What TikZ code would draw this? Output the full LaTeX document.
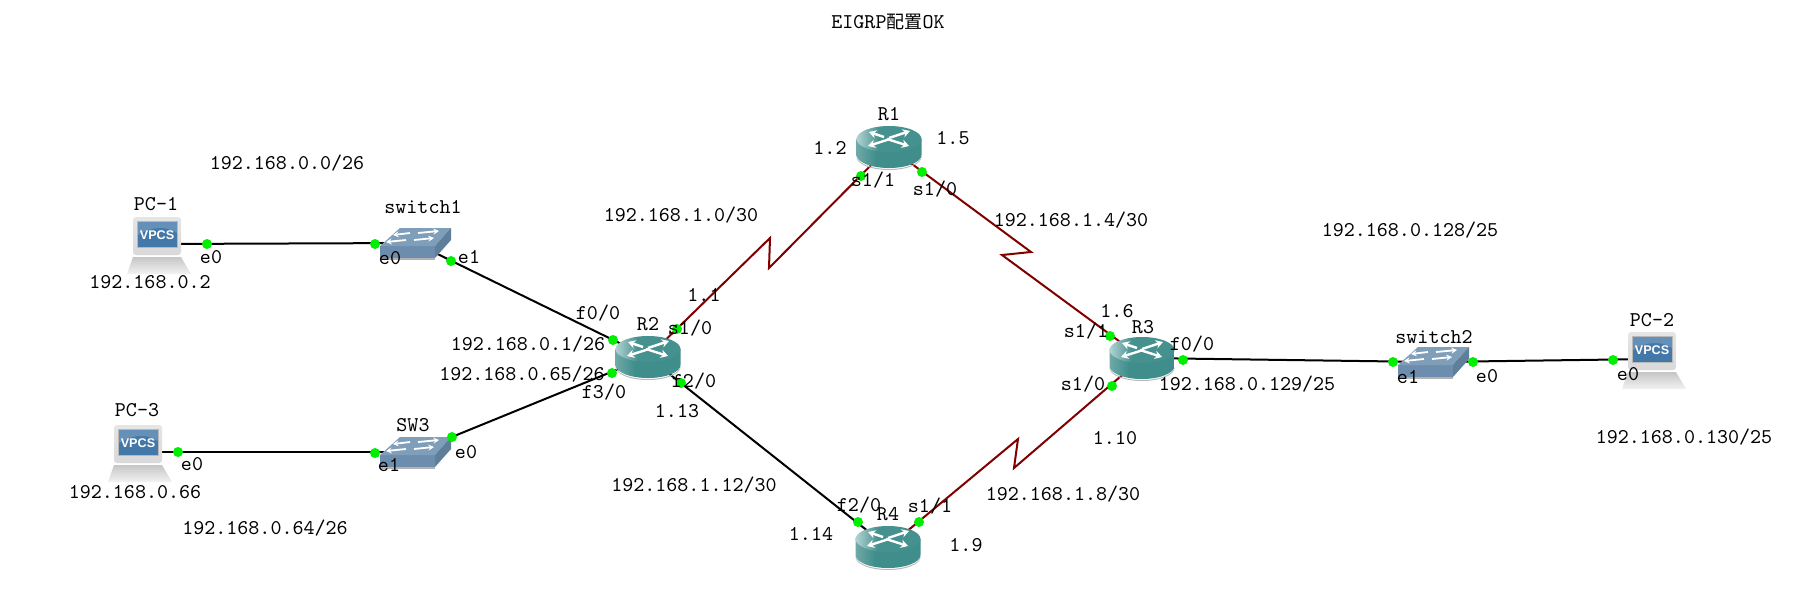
\documentclass[tikz,border=0pt]{standalone}
\usepackage{fontspec}
\usetikzlibrary{arrows.meta}
\newfontfamily\cjkfont{Noto Sans CJK SC}
\newfontfamily\iconfont{Liberation Sans}
\definecolor{routerteal}{HTML}{3F8E8C}
\definecolor{routertop}{HTML}{45918F}
\definecolor{routerlight}{HTML}{B4D4D4}
\definecolor{routermid}{HTML}{6FA9A8}
\definecolor{swfront}{HTML}{6C8DAE}
\definecolor{swtop}{HTML}{7F9EB9}
\definecolor{swside}{HTML}{5E7E9A}
\definecolor{serialred}{HTML}{800000}
\definecolor{dotgreen}{HTML}{00EE00}
\definecolor{screenblue}{HTML}{4478A8}
\pgfdeclarehorizontalshading{routertopshade}{100bp}{color(0bp)=(routerlight); color(25bp)=(routerlight); color(42bp)=(routertop); color(100bp)=(routertop)}
\pgfdeclarehorizontalshading{routerbodyshade}{100bp}{color(0bp)=(routermid); color(25bp)=(routermid); color(40bp)=(routerteal); color(100bp)=(routerteal)}
\tikzset{
  x=0.5pt, y=-0.5pt,
  devbox/.style={inner sep=0pt, minimum width=4pt, minimum height=4pt},
  eth/.style={black, line width=1pt},
  serial/.style={serialred, line width=1pt},
  port/.style={circle, fill=dotgreen, draw=none, inner sep=0pt, minimum size=5pt},
  lbl/.style={inner sep=0pt, font=\ttfamily\fontsize{10.5}{11}\selectfont, text=black},
  whitearrow/.style={white, line width=1.2pt, -{Stealth[length=3.6pt,width=4.2pt]}},
  router/.pic={
    \fill[gray!55] (-32.5,10) -- (-32.5,9) arc[x radius=32.5, y radius=-13, start angle=180, end angle=360] -- (32.5,10) arc[x radius=32.5, y radius=-13, start angle=360, end angle=180] -- cycle;
    \shade[shading=routerbodyshade]
      (-32.5,-8) -- (-32.5,8) arc[x radius=32.5, y radius=-13, start angle=180, end angle=360] -- (32.5,-8) -- cycle;
    \shade[shading=routertopshade] (0,-8) ellipse[x radius=32.5, y radius=13];
    \draw[whitearrow] (-5,-10) -- (-20,-15);
    \draw[whitearrow] (0,-9) -- (21,-16);
    \draw[whitearrow] (1,-8) -- (-21,-1);
    \draw[whitearrow] (-2,-8) -- (20,-1);
  },
  switchicon/.pic={
    \fill[gray!60] (-35,15) rectangle (20,17);
    \fill[swfront] (-35,3) rectangle (20,15);
    \fill[swtop] (-35,3) -- (-15,-15) -- (36,-15) -- (20,3) -- cycle;
    \fill[swside] (20,3) -- (36,-15) -- (36,-3) -- (20,15) -- cycle;
    \draw[white, line width=0.9pt, -{Stealth[length=2.8pt,width=3pt]}] (-5,-10) -- (-22,-8);
    \draw[white, line width=0.9pt, -{Stealth[length=2.8pt,width=3pt]}] (3,-10) -- (24,-12);
    \draw[white, line width=0.9pt, -{Stealth[length=2.8pt,width=3pt]}] (-9,-3) -- (-29,-1);
    \draw[white, line width=0.9pt, -{Stealth[length=2.8pt,width=3pt]}] (-1,-3) -- (19,-5);
  },
  pcicon/.pic={
    \shade[top color=gray!45, bottom color=gray!10] (-24,13) -- (24,13) -- (34,30) -- (-30,30) -- cycle;
    \shade[top color=gray!20, bottom color=gray!30, rounded corners=1.5pt] (-24,-27) rectangle (24,11);
    \fill[gray!55] (-20,-23) rectangle (21,4);
    \fill[screenblue] (-19,-22) rectangle (20,3);
    \fill[white, opacity=0.18] (-19,-22) -- (20,-22) -- (20,-11) .. controls (8,-19) and (-6,-17) .. (-19,-9) -- cycle;
    \node[inner sep=0pt, text=white, font=\iconfont\bfseries\fontsize{6.3}{7}\selectfont] (-vpcs) at (0,-9) {VPCS};
  },
}
\newcommand{\lbl}[4]{\node[lbl] (#1) at (#2,#3) {#4};}
\newcommand{\prt}[3]{\node[port] (#1) at (#2,#3) {};}
\begin{document}
\begin{tikzpicture}
\useasboundingbox (0,0) rectangle (1816,607);
\fill[white] (0,0) rectangle (1816,607);
% device anchors
\node[devbox] (PC1) at (157,244) {};
\node[devbox] (PC2) at (1652,359) {};
\node[devbox] (PC3) at (138,452) {};
\node[devbox] (SWA) at (415,243) {};
\node[devbox] (SWB) at (1433,362) {};
\node[devbox] (SWC) at (415,452) {};
\node[devbox] (R1) at (889,147) {};
\node[devbox] (R2) at (648,357) {};
\node[devbox] (R3) at (1142,358) {};
\node[devbox] (R4) at (888,547) {};
\coordinate (zA) at (770,238);
\coordinate (zB) at (769,268);
\coordinate (zC) at (1031,252);
\coordinate (zD) at (1002,255);
\coordinate (zE) at (1018,439);
\coordinate (zF) at (1014,468);
% connectors
\draw[eth] (PC1.center) -- (SWA.center);
\draw[eth] (SWA.center) -- (R2.center);
\draw[eth] (PC3.center) -- (SWC.center);
\draw[eth] (SWC.center) -- (R2.center);
\draw[eth] (R2.center) -- (R4.center);
\draw[eth] (R3.center) -- (SWB.center);
\draw[eth] (SWB.center) -- (PC2.center);
\draw[serial] (R2.center) -- (zA) -- (zB) -- (R1.center);
\draw[serial] (R1.center) -- (zC) -- (zD) -- (R3.center);
\draw[serial] (R4.center) -- (zE) -- (zF) -- (R3.center);
% icons
\pic at (PC1) {pcicon};
\pic at (PC2) {pcicon};
\pic at (PC3) {pcicon};
\pic at (SWA) {switchicon};
\pic at (SWB) {switchicon};
\pic at (SWC) {switchicon};
\pic at (R1) {router};
\pic at (R2) {router};
\pic at (R3) {router};
\pic at (R4) {router};
% ports
\prt{p1}{207}{244}
\prt{p2}{375}{244}
\prt{p3}{451}{261}
\prt{p4}{613}{340}
\prt{p5}{677}{329}
\prt{p6}{681}{383}
\prt{p7}{612}{373}
\prt{p8}{861}{176}
\prt{p9}{922}{172}
\prt{p10}{1110}{336}
\prt{p11}{1112}{386}
\prt{p12}{1183}{360}
\prt{p13}{858}{522}
\prt{p14}{919}{522}
\prt{p15}{1393}{362}
\prt{p16}{1473}{362}
\prt{p17}{1613}{360}
\prt{p18}{375}{453}
\prt{p19}{452}{437}
\prt{p20}{178}{452}
% labels
\node[lbl] (title) at (888,22) {EIGRP{\cjkfont\fontsize{9}{10}\selectfont 配置}OK};
\lbl{a1}{889}{114}{R1}
\lbl{a2}{830}{148}{1.2}
\lbl{a3}{953}{138}{1.5}
\lbl{a4}{873}{180}{s1/1}
\lbl{a5}{935}{189}{s1/0}
\lbl{a6}{681}{215}{192.168.1.0/30}
\lbl{a7}{1071}{220}{192.168.1.4/30}
\lbl{a8}{287}{163}{192.168.0.0/26}
\lbl{a9}{156}{204}{PC-1}
\lbl{a10}{423}{207}{switch1}
\lbl{a11}{211}{257}{e0}
\lbl{a12}{390}{258}{e0}
\lbl{a13}{469}{257}{e1}
\lbl{a14}{150}{282}{192.168.0.2}
\lbl{a15}{598}{313}{f0/0}
\lbl{a16}{648}{324}{R2}
\lbl{a17}{690}{328}{s1/0}
\lbl{a18}{704}{295}{1.1}
\lbl{a19}{528}{344}{192.168.0.1/26}
\lbl{a20}{522}{374}{192.168.0.65/26}
\lbl{a21}{604}{392}{f3/0}
\lbl{a22}{694}{381}{f2/0}
\lbl{a23}{677}{411}{1.13}
\lbl{a24}{694}{485}{192.168.1.12/30}
\lbl{a25}{265}{528}{192.168.0.64/26}
\lbl{a26}{137}{410}{PC-3}
\lbl{a27}{413}{425}{SW3}
\lbl{a28}{466}{452}{e0}
\lbl{a29}{389}{465}{e1}
\lbl{a30}{192}{464}{e0}
\lbl{a31}{135}{492}{192.168.0.66}
\lbl{a32}{859}{505}{f2/0}
\lbl{a33}{888}{514}{R4}
\lbl{a34}{930}{506}{s1/1}
\lbl{a35}{811}{534}{1.14}
\lbl{a36}{966}{545}{1.9}
\lbl{a37}{1063}{494}{192.168.1.8/30}
\lbl{a38}{1115}{438}{1.10}
\lbl{a39}{1117}{311}{1.6}
\lbl{a40}{1143}{327}{R3}
\lbl{a41}{1086}{331}{s1/1}
\lbl{a42}{1192}{344}{f0/0}
\lbl{a43}{1083}{384}{s1/0}
\lbl{a44}{1247}{384}{192.168.0.129/25}
\lbl{a45}{1410}{230}{192.168.0.128/25}
\lbl{a46}{1434}{337}{switch2}
\lbl{a47}{1408}{377}{e1}
\lbl{a48}{1487}{376}{e0}
\lbl{a49}{1652}{320}{PC-2}
\lbl{a50}{1628}{374}{e0}
\lbl{a51}{1684}{437}{192.168.0.130/25}
\end{tikzpicture}
\end{document}
